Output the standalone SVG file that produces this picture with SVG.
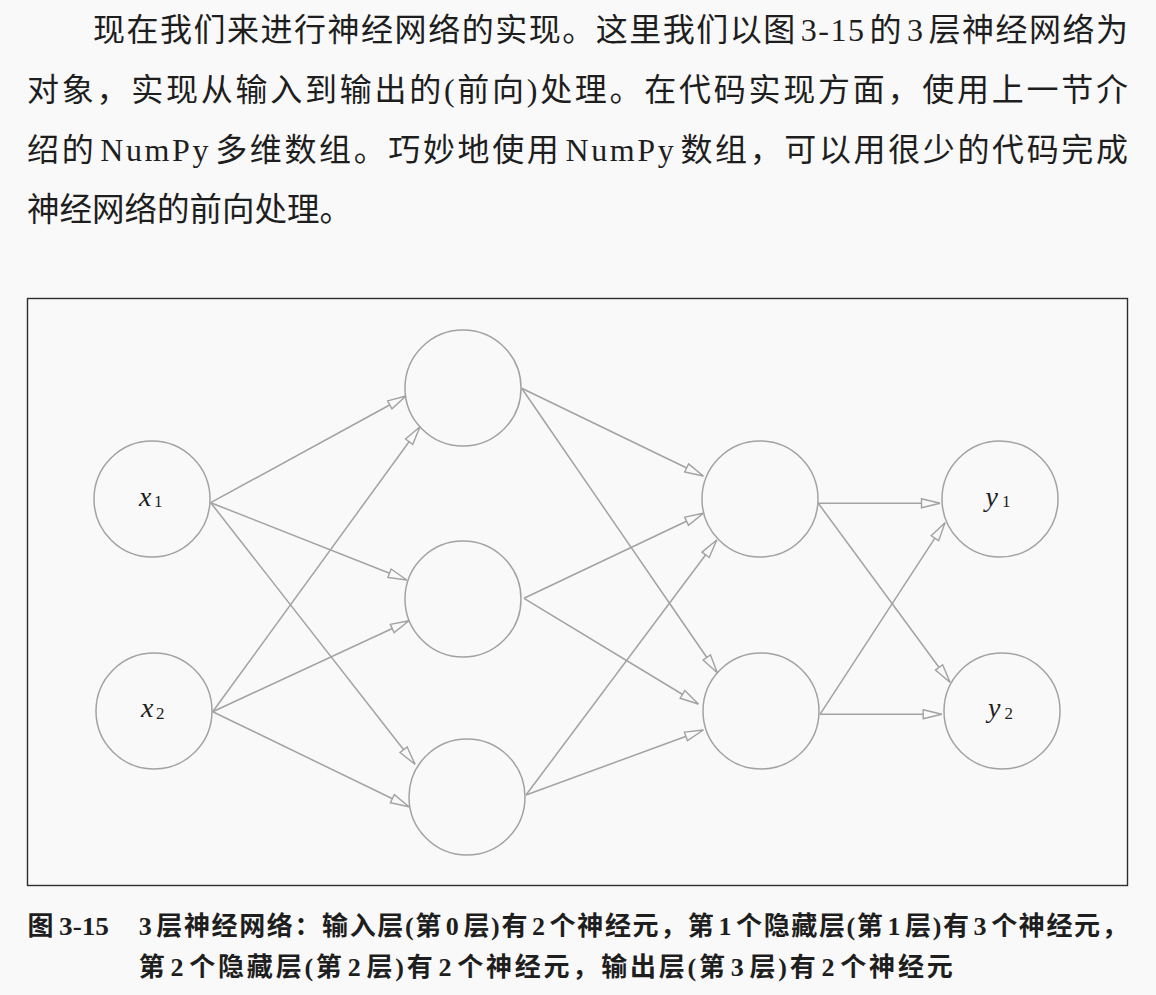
<svg xmlns="http://www.w3.org/2000/svg" width="1156" height="995" viewBox="0 0 1156 995">
<style>
.para{font-family:"Liberation Serif","Noto Sans CJK SC",serif;font-size:32px;fill:#1e1e1e;}
.cap{font-family:"Liberation Serif","Noto Sans CJK SC",serif;font-size:26px;font-weight:700;fill:#1e1e1e;}
.node circle{fill:none;stroke:#a2a2a2;stroke-width:1.5;}
.lbl{font-family:"Liberation Serif","DejaVu Serif",serif;font-style:italic;font-size:28px;fill:#1e1e1e;}
.sub{font-family:"Liberation Serif","DejaVu Serif",serif;font-size:17px;fill:#1e1e1e;}
#connectors line{stroke:#a2a2a2;stroke-width:1.5;marker-end:url(#arr);}
</style>
<defs>
<marker id="arr" markerUnits="userSpaceOnUse" markerWidth="24" markerHeight="14" refX="19" refY="5" orient="auto" overflow="visible">
<path d="M0.5,0.5 L19,5 L0.5,9.5 Z" fill="#f9f9f9" stroke="#a2a2a2" stroke-width="1.4" stroke-linejoin="miter"/>
</marker>
</defs>
<rect x="0" y="0" width="1156" height="995" fill="#f9f9f9"/>

<g id="paragraph">
<text class="para" x="93" y="41" textLength="1035" lengthAdjust="spacing">现在我们来进行神经网络的实现。这里我们以图<tspan dx="4">3-15</tspan><tspan dx="4">的</tspan><tspan dx="4">3</tspan><tspan dx="4">层神经网络为</tspan></text>
<text class="para" x="27" y="101" textLength="1101" lengthAdjust="spacing">对象，实现从输入到输出的(前向)处理。在代码实现方面，使用上一节介</text>
<text class="para" x="27" y="161" textLength="1101" lengthAdjust="spacing">绍的<tspan dx="4">NumPy</tspan><tspan dx="4">多维数组。巧妙地使用</tspan><tspan dx="4">NumPy</tspan><tspan dx="4">数组，可以用很少的代码完成</tspan></text>
<text class="para" x="27" y="221" style="font-size:32.5px">神经网络的前向处理。</text>
</g>

<rect id="frame" x="27.5" y="298.5" width="1100" height="587" fill="none" stroke="#2e2e2e" stroke-width="1.4"/>

<g id="connectors">
<line x1="210.7" y1="502.7" x2="406" y2="396"/>
<line x1="210.7" y1="502.7" x2="406.7" y2="580"/>
<line x1="210.7" y1="502.7" x2="415" y2="764.3"/>
<line x1="212.7" y1="711.7" x2="420" y2="426.7"/>
<line x1="212.7" y1="711.7" x2="409" y2="620.7"/>
<line x1="212.7" y1="711.7" x2="409" y2="806.7"/>
<line x1="521.7" y1="388.3" x2="703.3" y2="476"/>
<line x1="521.7" y1="388.3" x2="717.3" y2="672.7"/>
<line x1="524" y1="598.3" x2="703.3" y2="513.3"/>
<line x1="524" y1="598.3" x2="698.3" y2="704"/>
<line x1="526" y1="795" x2="716.7" y2="540"/>
<line x1="526" y1="795" x2="703.3" y2="730"/>
<line x1="818.3" y1="503.3" x2="940" y2="503.3"/>
<line x1="818.3" y1="503.3" x2="950" y2="682.3"/>
<line x1="820" y1="714.3" x2="945" y2="522.7"/>
<line x1="820" y1="714.3" x2="941.7" y2="714.3"/>
</g>

<g id="x1" class="node"><circle cx="152" cy="499" r="58"/><text class="lbl" x="139" y="505.5">x</text><text class="sub" x="154" y="507">1</text></g>
<g id="x2" class="node"><circle cx="154" cy="711" r="58"/><text class="lbl" x="141" y="717">x</text><text class="sub" x="156" y="718.5">2</text></g>
<g id="h1a" class="node"><circle cx="463" cy="388" r="58"/></g>
<g id="h1b" class="node"><circle cx="463" cy="599" r="58"/></g>
<g id="h1c" class="node"><circle cx="467" cy="797" r="58"/></g>
<g id="h2a" class="node"><circle cx="760" cy="499" r="58"/></g>
<g id="h2b" class="node"><circle cx="761" cy="711" r="58"/></g>
<g id="y1" class="node"><circle cx="1000" cy="499" r="58"/><text class="lbl" x="985.5" y="505.5">y</text><text class="sub" x="1002" y="507">1</text></g>
<g id="y2" class="node"><circle cx="1002" cy="711" r="58"/><text class="lbl" x="988" y="717">y</text><text class="sub" x="1004.5" y="718.5">2</text></g>

<g id="caption">
<text class="cap" x="27.5" y="935">图</text>
<text class="cap" x="59" y="935" textLength="50" lengthAdjust="spacingAndGlyphs">3-15</text>
<text class="cap" x="138.7" y="935" textLength="989" lengthAdjust="spacing">3<tspan dx="3">层神经网络：输入层(第</tspan><tspan dx="3">0</tspan><tspan dx="3">层)有</tspan><tspan dx="3">2</tspan><tspan dx="3">个神经元，第</tspan><tspan dx="3">1</tspan><tspan dx="3">个隐藏层(第</tspan><tspan dx="3">1</tspan><tspan dx="3">层)有</tspan><tspan dx="3">3</tspan><tspan dx="3">个神经元，</tspan></text>
<text class="cap" x="138.7" y="976" textLength="814" lengthAdjust="spacing">第<tspan dx="3">2</tspan><tspan dx="3">个隐藏层(第</tspan><tspan dx="3">2</tspan><tspan dx="3">层)有</tspan><tspan dx="3">2</tspan><tspan dx="3">个神经元，输出层(第</tspan><tspan dx="3">3</tspan><tspan dx="3">层)有</tspan><tspan dx="3">2</tspan><tspan dx="3">个神经元</tspan></text>
</g>
</svg>
